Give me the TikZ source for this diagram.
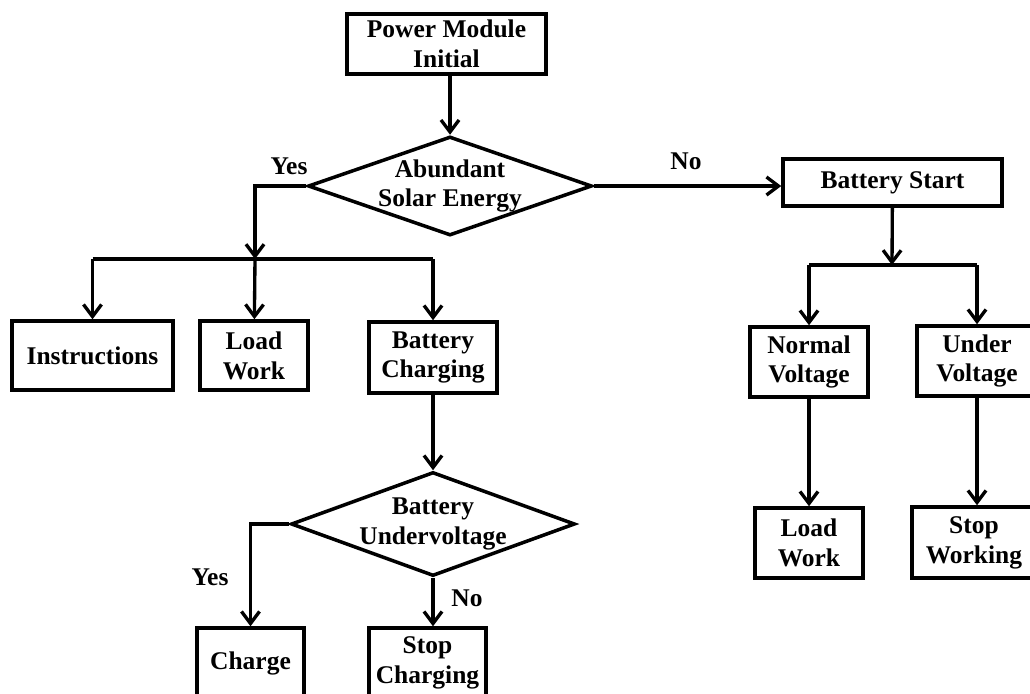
\documentclass[tikz,border=0pt]{standalone}
\usepackage{fontspec}
\setmainfont{Liberation Serif}
\usetikzlibrary{arrows.meta,positioning,calc,shapes.geometric}
\tikzset{
  >={Straight Barb[length=2.4mm,width=3.6mm]},
  % flödesschema
  blk/.style={draw=black,line width=2pt,fill=white,inner sep=0pt,align=center},
  sz/.style 2 args={minimum width=#1*0.2mm,minimum height=#2*0.2mm},
  dec/.style={diamond,draw=black,line width=2pt,fill=white,align=center,
              inner xsep=-13mm,inner ysep=-4.5mm},
  ln/.style={draw=black,line width=1.9pt,line join=miter},
  ar/.style={->,draw=black,line width=1.9pt,line join=miter},
  lbl/.style={inner sep=1pt},
}

\begin{document}
\begin{tikzpicture}[x=0.2mm,y=-0.2mm,
  every node/.append style={font=\bfseries\fontsize{14.5}{17}\selectfont}]
  \clip (0,0) rectangle (1030,693);
  \node[blk,sz={199}{60}] (pm) at (446.5,44) {Power Module\\Initial};
  \node[dec,sz={284}{99}] (d1) at (450,186) {Abundant\\Solar Energy};
  \node[blk,sz={161}{69}] (ins) at (92.5,355.5) {Instructions};
  \node[blk,sz={108}{69}] (lw1) at (254,355.5) {Load\\Work};
  \node[blk,sz={128}{71}] (bc) at (433,357.5) {Battery\\Charging};
  \node[dec,sz={284}{104}] (d2) at (433,524) {Battery\\Undervoltage};
  \node[blk,sz={107}{70}] (chg) at (250.5,663) {Charge};
  \node[blk,sz={117}{70}] (sc) at (427.5,663) {Stop\\Charging};
  \node[blk,sz={219}{47}] (bs) at (892.5,182.5) {Battery Start};
  \node[blk,sz={118}{70}] (nv) at (809,362) {Normal\\Voltage};
  \node[blk,sz={120}{70}] (uv) at (977,361) {Under\\Voltage};
  \node[blk,sz={108}{70}] (lw2) at (809,543) {Load\\Work};
  \node[blk,sz={124}{71}] (sw) at (974,542.5) {Stop\\Working};
  \node[lbl] (y1) at (289,166) {Yes};
  \node[lbl] (n1) at (686,161) {No};
  \node[lbl] (y2) at (210,577) {Yes};
  \node[lbl] (n2) at (467,598) {No};
  \coordinate (j1) at (255,259);
  \coordinate (j2) at (892,265);
  \coordinate (c1) at (ins |- j1);
  \coordinate (c3) at (bc |- j1);
  \draw[ar] (d1.north |- pm.south) -- (d1.north);
  \draw[ar] (d1.west) -| (j1);
  \draw[ln] (c1) -- (c3);
  \draw[ar] (c1) -- (ins);
  \draw[ar] (j1) -- (lw1);
  \draw[ar] (c3) -- (bc);
  \draw[ar] (bc) -- (d2);
  \draw[ar] (d2.west) -| (chg);
  \draw[ar] (d2.south) -- (d2.south |- sc.north);
  \draw[ar] (d1.east) -- (d1.east -| bs.west);
  \draw[ar] (bs) -- (j2);
  \draw[ln] (nv |- j2) -- (uv |- j2);
  \draw[ar] (nv |- j2) -- (nv);
  \draw[ar] (uv |- j2) -- (uv);
  \draw[ar] (nv) -- (lw2);
  \draw[ar] (uv.south) -- (uv.south |- sw.north);
\end{tikzpicture}
\end{document}
